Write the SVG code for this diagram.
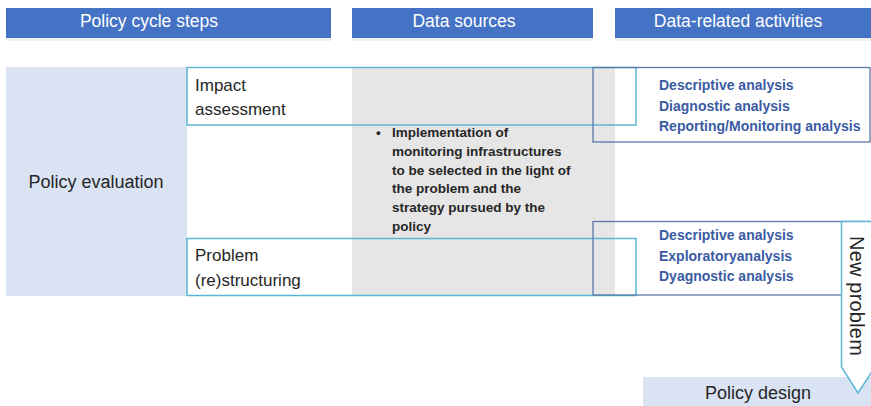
<svg xmlns="http://www.w3.org/2000/svg" width="871" height="406" viewBox="0 0 871 406">
  <style>
    .hdr { fill: #4472C4; }
    .hdr-shadow { fill: #000; opacity: 0.06; }
    .hdr-text { font-family: "Liberation Sans", Arial, sans-serif; font-size: 17.5px; fill: #ffffff; text-anchor: middle; }
    .band { fill: #DAE3F3; }
    .grey { fill: #E7E6E6; }
    .step { fill: none; stroke: #5BB7D5; stroke-width: 1.5; }
    .act { fill: none; stroke: #5A78A8; stroke-width: 1.3; }
    .label { font-family: "Liberation Sans", Arial, sans-serif; font-size: 17px; fill: #262626; }
    .label-lg { font-family: "Liberation Sans", Arial, sans-serif; font-size: 18px; fill: #262626; text-anchor: middle; }
    .label-vert { font-family: "Liberation Sans", Arial, sans-serif; font-size: 20px; letter-spacing: 0.2px; fill: #262626; text-anchor: middle; }
    .src { font-family: "Liberation Sans", Arial, sans-serif; font-size: 13.5px; font-weight: bold; fill: #262626; }
    .acttext { font-family: "Liberation Sans", Arial, sans-serif; font-size: 14px; font-weight: bold; fill: #3A5BA3; }
  </style>

  <!-- column headers -->
  <g id="headers">
    <rect class="hdr-shadow" x="6" y="38" width="325" height="3"/>
    <rect class="hdr-shadow" x="352" y="38" width="241" height="3"/>
    <rect class="hdr-shadow" x="615" y="38" width="256" height="3"/>
    <g id="hdr-policy-cycle">
      <rect class="hdr" x="6" y="8" width="325" height="30"/>
      <text class="hdr-text" x="149" y="27">Policy cycle steps</text>
    </g>
    <g id="hdr-data-sources">
      <rect class="hdr" x="352" y="8" width="241" height="30"/>
      <text class="hdr-text" x="464" y="27">Data sources</text>
    </g>
    <g id="hdr-activities">
      <rect class="hdr" x="615" y="8" width="256" height="30"/>
      <text class="hdr-text" x="738" y="27">Data-related activities</text>
    </g>
  </g>

  <!-- background bands -->
  <g id="policy-evaluation">
    <rect class="band" x="6" y="67" width="181" height="229"/>
    <text class="label-lg" x="96" y="188">Policy evaluation</text>
  </g>
  <g id="data-source-band">
    <rect class="grey" x="352" y="68" width="263" height="228"/>
    <text class="src" x="376" y="137">•</text>
    <text class="src">
      <tspan x="392" y="137">Implementation of</tspan>
      <tspan x="392" y="156">monitoring infrastructures</tspan>
      <tspan x="392" y="175">to be selected in the light of</tspan>
      <tspan x="392" y="193">the problem and the</tspan>
      <tspan x="392" y="212">strategy pursued by the</tspan>
      <tspan x="392" y="231">policy</tspan>
    </text>
  </g>

  <!-- policy cycle sub-steps -->
  <g id="impact-assessment">
    <rect class="step" x="187" y="67.5" width="449" height="57.5"/>
    <text class="label" x="195" y="91">Impact</text>
    <text class="label" x="195" y="115">assessment</text>
  </g>
  <g id="problem-restructuring">
    <rect class="step" x="187" y="238.5" width="449" height="57"/>
    <text class="label" x="195" y="261">Problem</text>
    <text class="label" x="195" y="286">(re)structuring</text>
  </g>

  <!-- data-related activities -->
  <g id="activities-impact">
    <rect class="act" x="593" y="67.5" width="277" height="74.5"/>
    <text class="acttext">
      <tspan x="659" y="90">Descriptive analysis</tspan>
      <tspan x="659" y="111">Diagnostic analysis</tspan>
      <tspan x="659" y="131">Reporting/Monitoring analysis</tspan>
    </text>
  </g>
  <g id="activities-problem">
    <rect class="act" x="593" y="221.5" width="282" height="73.5"/>
    <text class="acttext">
      <tspan x="659" y="240">Descriptive analysis</tspan>
      <tspan x="659" y="261">Exploratoryanalysis</tspan>
      <tspan x="659" y="281">Dyagnostic analysis</tspan>
    </text>
  </g>

  <!-- next step -->
  <g id="policy-design">
    <rect class="band" x="643" y="377" width="228" height="29"/>
    <text class="label-lg" x="758" y="399">Policy design</text>
  </g>

  <!-- feedback arrow -->
  <g id="connectors">
    <g id="new-problem">
      <path d="M841.5,221.5 L875,221.5 L875,367 L858,393 L841.5,367 Z" fill="#ffffff" stroke="#5BB7D5" stroke-width="1.5"/>
      <text class="label-vert" transform="translate(856,296) rotate(90)" y="6.5">New problem</text>
    </g>
  </g>
</svg>
